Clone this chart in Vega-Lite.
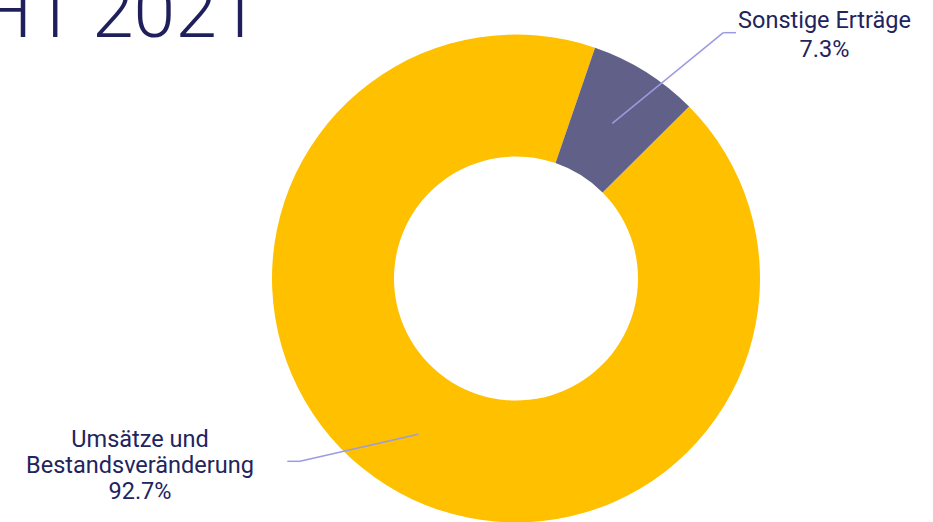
{
  "$schema": "https://vega.github.io/schema/vega-lite/v6.json",
  "width": 933,
  "height": 522,
  "padding": 0,
  "autosize": {"type": "none"},
  "background": "white",
  "config": {"view": {"stroke": null}},
  "data": {
    "values": [
      {"category": "Umsätze und Bestandsveränderung", "share": 92.7},
      {"category": "Sonstige Erträge", "share": 7.3}
    ]
  },
  "transform": [
    {"calculate": "replace(datum.category, 'und ', 'und\\n') + '\\n' + format(datum.share / 100, '.1%')", "as": "label"}
  ],
  "layer": [
    {
      "mark": {"type": "arc", "radius": 244, "radius2": 122},
      "encoding": {
        "x": {"datum": 0, "type": "quantitative", "scale": {"domain": [-516, 417], "nice": false, "zero": false}, "axis": null},
        "y": {"datum": 0, "type": "quantitative", "scale": {"domain": [-243.5, 278.5], "nice": false, "zero": false}, "axis": null},
        "theta": {"field": "share", "type": "quantitative", "stack": true, "scale": {"range": [0.33, 6.6132]}},
        "color": {
          "field": "category",
          "type": "nominal",
          "scale": {"domain": ["Sonstige Erträge", "Umsätze und Bestandsveränderung"], "range": ["#606088", "#FFC000"]},
          "legend": null
        }
      }
    },
    {
      "transform": [{"filter": "datum.category === 'Sonstige Erträge'"}],
      "mark": {"type": "rule", "color": "#9b9be2", "strokeWidth": 1.5},
      "encoding": {
        "x": {"datum": 96.3, "type": "quantitative"},
        "y": {"datum": 155.2, "type": "quantitative"},
        "x2": {"datum": 207.3},
        "y2": {"datum": 245.8}
      }
    },
    {
      "transform": [{"filter": "datum.category === 'Sonstige Erträge'"}],
      "mark": {"type": "rule", "color": "#9b9be2", "strokeWidth": 1.5},
      "encoding": {
        "x": {"datum": 207.3, "type": "quantitative"},
        "y": {"datum": 245.8, "type": "quantitative"},
        "x2": {"datum": 220},
        "y2": {"datum": 245.8}
      }
    },
    {
      "transform": [{"filter": "datum.category !== 'Sonstige Erträge'"}],
      "mark": {"type": "rule", "color": "#9b9be2", "strokeWidth": 1.5},
      "encoding": {
        "x": {"datum": -97.7, "type": "quantitative"},
        "y": {"datum": -155.8, "type": "quantitative"},
        "x2": {"datum": -216},
        "y2": {"datum": -182.8}
      }
    },
    {
      "transform": [{"filter": "datum.category !== 'Sonstige Erträge'"}],
      "mark": {"type": "rule", "color": "#9b9be2", "strokeWidth": 1.5},
      "encoding": {
        "x": {"datum": -216, "type": "quantitative"},
        "y": {"datum": -182.8, "type": "quantitative"},
        "x2": {"datum": -228.7},
        "y2": {"datum": -182.8}
      }
    },
    {
      "transform": [{"filter": "datum.category === 'Sonstige Erträge'"}],
      "mark": {"type": "text", "font": "Roboto", "fontSize": 23.5, "color": "#23235e", "align": "center", "baseline": "alphabetic", "lineHeight": 28.4, "lineBreak": "\n"},
      "encoding": {
        "x": {"datum": 308.5, "type": "quantitative"},
        "y": {"datum": 250.2, "type": "quantitative"},
        "text": {"field": "label"}
      }
    },
    {
      "transform": [{"filter": "datum.category !== 'Sonstige Erträge'"}],
      "mark": {"type": "text", "font": "Roboto", "fontSize": 23.5, "color": "#23235e", "align": "center", "baseline": "alphabetic", "lineHeight": 26, "lineBreak": "\n"},
      "encoding": {
        "x": {"datum": -376, "type": "quantitative"},
        "y": {"datum": -168.2, "type": "quantitative"},
        "text": {"field": "label"}
      }
    },
    {
      "transform": [{"filter": "datum.category === 'Sonstige Erträge'"}],
      "mark": {"type": "text", "font": "Roboto", "fontWeight": 300, "fontSize": 75, "color": "#1f1f5b", "align": "left", "baseline": "alphabetic"},
      "encoding": {
        "x": {"datum": -537, "type": "quantitative"},
        "y": {"datum": 241.5, "type": "quantitative"},
        "text": {"value": "H1 2021"}
      }
    }
  ]
}
